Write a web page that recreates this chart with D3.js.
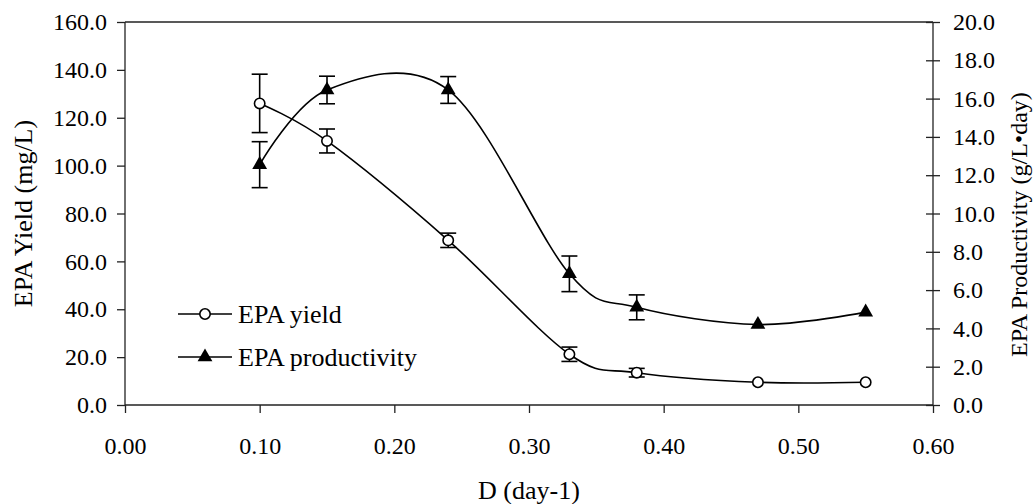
<!DOCTYPE html>
<html><head><meta charset="utf-8">
<script src="https://cdn.jsdelivr.net/npm/d3@7"></script>
<style>
html,body{margin:0;padding:0;background:#fff;}
svg{display:block;}
text{font-family:"Liberation Serif","Times New Roman",serif;fill:#000;}
</style></head>
<body><svg id="c" width="1036" height="504"></svg>
<script>
const dilution = [0.10, 0.15, 0.24, 0.33, 0.38, 0.47, 0.55];
const yieldVals = [126.0, 110.3, 68.8, 21.2, 13.5, 9.5, 9.5];
const yieldErr = [12.2, 5.0, 3.0, 3.0, 1.8, 0, 0];
const prodVals = [12.55, 16.45, 16.45, 6.85, 5.1, 4.2, 4.85];
const prodErr = [1.2, 0.72, 0.7, 0.93, 0.65, 0, 0];
const xTicks = [0, 0.1, 0.2, 0.3, 0.4, 0.5, 0.6];
const yLeftTicks = [0, 20, 40, 60, 80, 100, 120, 140, 160];
const yRightTicks = [0, 2, 4, 6, 8, 10, 12, 14, 16, 18, 20];
const seriesNames = ["EPA yield", "EPA productivity"];

const W = 1036, H = 504;
const m = {l: 125, r: 103, t: 22, b: 99};
const svg = d3.select("#c");
const x = d3.scaleLinear().domain([0, 0.6]).range([m.l, W - m.r]);
const yL = d3.scaleLinear().domain([0, 160]).range([H - m.b, m.t]);
const yR = d3.scaleLinear().domain([0, 20]).range([H - m.b, m.t]);

const axisColor = "#222";
svg.append("line").attr("x1", x(0)).attr("x2", x(0.6)).attr("y1", yL(160)).attr("y2", yL(160))
  .attr("stroke", axisColor).attr("stroke-width", 1.3);

const gx = svg.append("g").attr("transform", `translate(0,${yL(0)})`)
  .call(d3.axisBottom(x).tickValues(xTicks).tickFormat(d3.format(".2f")).tickSize(8).tickPadding(24));
const gl = svg.append("g").attr("transform", `translate(${x(0)},0)`)
  .call(d3.axisLeft(yL).tickValues(yLeftTicks).tickFormat(d3.format(".1f")).tickSize(8).tickPadding(10));
const gr = svg.append("g").attr("transform", `translate(${x(0.6)},0)`)
  .call(d3.axisRight(yR).tickValues(yRightTicks).tickFormat(d3.format(".1f")).tickSize(7).tickPadding(13));
gr.selectAll(".tick line").attr("x1", -7);
[gx, gl, gr].forEach(g => {
  g.select(".domain").attr("stroke", axisColor).attr("stroke-width", 1.3);
  g.selectAll(".tick line").attr("stroke", axisColor).attr("stroke-width", 1.3);
  g.selectAll("text").attr("font-size", 24).attr("font-family", "Liberation Serif");
});
gx.select(".domain").attr("d", `M${x(0)},0H${x(0.6)}`);
gl.select(".domain").attr("d", `M0,${yL(0)}V${yL(160)}`);
gr.select(".domain").attr("d", `M0,${yR(0)}V${yR(20)}`);

svg.append("text").attr("x", (x(0) + x(0.6)) / 2).attr("y", 499).attr("text-anchor", "middle")
  .attr("font-size", 26).text("D (day-1)");
svg.append("text").attr("transform", `translate(32,${(yL(0) + yL(160)) / 2}) rotate(-90)`)
  .attr("text-anchor", "middle").attr("font-size", 26).text("EPA Yield (mg/L)");
svg.append("text").attr("transform", `translate(1027,357) rotate(-90)`)
  .attr("text-anchor", "start").attr("font-size", 24).text("EPA Productivity (g/L\u2022day)");

const curve = d3.curveCardinal.tension(0);
const yieldData = dilution.map((d, i) => ({x: d, y: yieldVals[i], e: yieldErr[i]}));
const prodData = dilution.map((d, i) => ({x: d, y: prodVals[i], e: prodErr[i]}));

svg.append("path").datum(yieldData).attr("fill", "none").attr("stroke", "#000").attr("stroke-width", 1.6)
  .attr("d", d3.line().x(d => x(d.x)).y(d => yL(d.y)).curve(curve));
svg.append("path").datum(prodData).attr("fill", "none").attr("stroke", "#000").attr("stroke-width", 1.6)
  .attr("d", d3.line().x(d => x(d.x)).y(d => yR(d.y)).curve(curve));

function errBars(data, ys) {
  const g = svg.append("g").attr("stroke", "#000").attr("stroke-width", 1.6);
  data.filter(d => d.e > 0).forEach(d => {
    const cx = x(d.x), y1 = ys(d.y + d.e), y2 = ys(d.y - d.e);
    g.append("line").attr("x1", cx).attr("x2", cx).attr("y1", y1).attr("y2", y2);
    g.append("line").attr("x1", cx - 8).attr("x2", cx + 8).attr("y1", y1).attr("y2", y1);
    g.append("line").attr("x1", cx - 8).attr("x2", cx + 8).attr("y1", y2).attr("y2", y2);
  });
}
errBars(yieldData, yL);
errBars(prodData, yR);

const tri = d3.symbol().type(d3.symbolTriangle).size(95);
svg.append("g").selectAll("circle").data(yieldData).join("circle")
  .attr("cx", d => x(d.x)).attr("cy", d => yL(d.y)).attr("r", 5.2)
  .attr("fill", "#fff").attr("stroke", "#000").attr("stroke-width", 1.6);
svg.append("g").selectAll("path").data(prodData).join("path")
  .attr("transform", d => `translate(${x(d.x)},${yR(d.y)})`).attr("d", tri).attr("fill", "#000");

const lg = svg.append("g");
const rows = [314, 357];
rows.forEach((ry, i) => {
  lg.append("line").attr("x1", 178).attr("x2", 232).attr("y1", ry).attr("y2", ry)
    .attr("stroke", "#000").attr("stroke-width", 1.6);
  if (i === 0) lg.append("circle").attr("cx", 205).attr("cy", ry).attr("r", 5.2)
    .attr("fill", "#fff").attr("stroke", "#000").attr("stroke-width", 1.6);
  else lg.append("path").attr("transform", `translate(205,${ry})`).attr("d", tri).attr("fill", "#000");
  lg.append("text").attr("x", 238).attr("y", ry + 9).attr("font-size", 26).text(seriesNames[i]);
});
</script></body></html>
